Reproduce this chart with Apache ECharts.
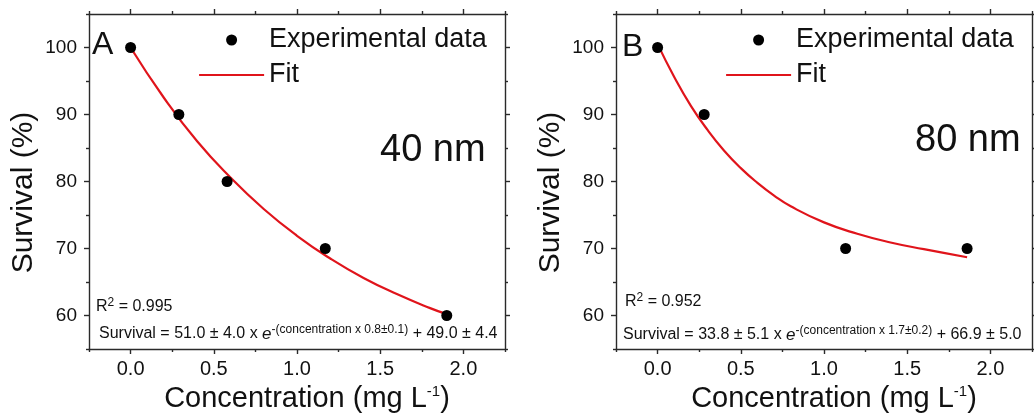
<!DOCTYPE html>
<html>
<head>
<meta charset="utf-8">
<script src="https://cdn.jsdelivr.net/npm/echarts@6/dist/echarts.min.js"></script>
<style>
html,body{margin:0;padding:0;background:#fff}
#chart{width:1034px;height:414px}
</style>
</head>
<body>
<div id="chart"></div>
<script>
// measured points, panel A (40 nm) and panel B (80 nm)
var concA = [0, 0.29, 0.58, 1.17, 1.9];
var survA = [100, 90, 80, 70, 60];
var concB = [0, 0.28, 1.13, 1.86];
var survB = [100, 90, 70, 70];

// fit curves
var fitConcA = [0, 0.2, 0.4, 0.6, 0.8, 1.0, 1.2, 1.4, 1.6, 1.8, 1.9];
var fitSurvA = [100, 92.5, 86.0, 80.6, 75.9, 71.9, 68.5, 65.6, 63.2, 61.1, 60.2];
var fitConcB = [0, 0.1, 0.2, 0.3, 0.4, 0.5, 0.6, 0.7, 0.8, 1.0, 1.2, 1.4, 1.6, 1.86];
var fitSurvB = [100.5, 95.6, 91.3, 87.7, 84.6, 82.0, 79.8, 77.9, 76.3, 73.9, 72.2, 70.9, 69.9, 68.7];

// ticks
var xLabels = [0, 0.5, 1, 1.5, 2];
var xMinorTicks = [-0.25, 0.25, 0.75, 1.25, 1.75, 2.25];
var yLabels = [60, 70, 80, 90, 100];
var yMinorTicks = [55, 65, 75, 85, 95, 105];

var FONT = 'Liberation Sans, Arial, sans-serif';
var axisColor = '#2a2a2a';
var red = '#e0141b';

var myChart = echarts.init(document.getElementById('chart'));

function pairs(xs, ys) {
    return xs.map(function (x, i) { return [x, ys[i]]; });
}

function xAxes(g) {
    var list = [];
    ['bottom', 'top'].forEach(function (pos) {
        list.push({
            gridIndex: g, type: 'value', position: pos, min: -0.25, max: 2.25,
            splitLine: {show: false},
            axisLine: {show: true, onZero: false, lineStyle: {color: axisColor, width: 1.4}},
            axisTick: {show: true, length: 5, customValues: xLabels, lineStyle: {color: axisColor, width: 1.4}},
            axisLabel: {
                show: pos === 'bottom', customValues: xLabels, margin: 10,
                fontSize: 20, fontFamily: FONT, color: '#111',
                formatter: function (v) { return v.toFixed(1); }
            },
            name: pos === 'bottom' ? '{n|Concentration (mg L}{s|-1}{n|)}' : '',
            nameLocation: 'middle',
            nameGap: 23,
            nameTextStyle: {
                padding: [0, 0, 0, 20],
                rich: {
                    n: {fontSize: 29, fontFamily: FONT, color: '#111', lineHeight: 30},
                    s: {fontSize: 15, fontFamily: FONT, color: '#111', lineHeight: 30, verticalAlign: 'top', padding: [0, 0, 14, 0]}
                }
            }
        });
        list.push({
            gridIndex: g, type: 'value', position: pos, min: -0.25, max: 2.25,
            splitLine: {show: false},
            axisLine: {show: false, onZero: false},
            axisTick: {show: true, length: 3, customValues: xMinorTicks, lineStyle: {color: axisColor, width: 1.4}},
            axisLabel: {show: false}
        });
    });
    return list;
}

function yAxes(g) {
    var list = [];
    ['left', 'right'].forEach(function (pos) {
        list.push({
            gridIndex: g, type: 'value', position: pos, min: 55, max: 105,
            splitLine: {show: false},
            axisLine: {show: true, onZero: false, lineStyle: {color: axisColor, width: 1.4}},
            axisTick: {show: true, length: 5, customValues: yLabels, lineStyle: {color: axisColor, width: 1.4}},
            axisLabel: {show: pos === 'left', customValues: yLabels, margin: 12, fontSize: 19, fontFamily: FONT, color: '#111'},
            name: pos === 'left' ? 'Survival (%)' : '',
            nameLocation: 'middle',
            nameGap: 50,
            nameTextStyle: {fontSize: 30, fontFamily: FONT, color: '#111', padding: [0, 22, 0, 0]}
        });
        list.push({
            gridIndex: g, type: 'value', position: pos, min: 55, max: 105,
            splitLine: {show: false},
            axisLine: {show: false, onZero: false},
            axisTick: {show: true, length: 3, customValues: yMinorTicks, lineStyle: {color: axisColor, width: 1.4}},
            axisLabel: {show: false}
        });
    });
    return list;
}

function legendAt(left) {
    return {
        left: left, top: 25, orient: 'vertical', padding: 0,
        itemWidth: 65, itemHeight: 11, itemGap: 5,
        selectedMode: false,
        textStyle: {fontSize: 27, lineHeight: 30, fontFamily: FONT, color: '#111'},
        data: [
            {name: 'Experimental data', icon: 'circle', itemStyle: {color: '#000', opacity: 1}},
            {name: 'Fit', itemStyle: {opacity: 0}, lineStyle: {color: red, width: 2.2}}
        ]
    };
}

function label(text, x, y, size) {
    return {
        type: 'text', x: x, y: y, z: 10,
        style: {text: text, fill: '#111', font: size + 'px ' + FONT, verticalAlign: 'middle'}
    };
}

var richEq = {
    n: {fontSize: 16, fontFamily: FONT, fill: '#111', lineHeight: 21},
    e: {fontSize: 17, fontFamily: FONT, fontStyle: 'italic', fill: '#111', lineHeight: 21},
    s: {fontSize: 12, fontFamily: FONT, fill: '#111', lineHeight: 14, verticalAlign: 'top'}
};

function richText(text, x, y) {
    return {
        type: 'text', x: x, y: y, z: 10,
        style: {text: text, rich: richEq, fill: '#111', font: '16px ' + FONT, verticalAlign: 'middle'}
    };
}

var option = {
    backgroundColor: '#fff',
    animation: false,
    grid: [
        {left: 89, top: 14, width: 416, height: 335, outerBoundsMode: 'none'},
        {left: 616, top: 14, width: 416, height: 335, outerBoundsMode: 'none'}
    ],
    legend: [legendAt(198), legendAt(725)],
    xAxis: xAxes(0).concat(xAxes(1)),
    yAxis: yAxes(0).concat(yAxes(1)),
    series: [
        {
            type: 'line', name: 'Fit', xAxisIndex: 0, yAxisIndex: 0,
            data: pairs(fitConcA, fitSurvA), smooth: true, symbol: 'none',
            lineStyle: {color: red, width: 2.2}, itemStyle: {color: red}, z: 2
        },
        {
            type: 'scatter', name: 'Experimental data', xAxisIndex: 0, yAxisIndex: 0,
            data: pairs(concA, survA), symbolSize: 11,
            itemStyle: {color: '#000', opacity: 1}, z: 3
        },
        {
            type: 'line', name: 'Fit', xAxisIndex: 4, yAxisIndex: 4,
            data: pairs(fitConcB, fitSurvB), smooth: true, symbol: 'none',
            lineStyle: {color: red, width: 2.2}, itemStyle: {color: red}, z: 2
        },
        {
            type: 'scatter', name: 'Experimental data', xAxisIndex: 4, yAxisIndex: 4,
            data: pairs(concB, survB), symbolSize: 11,
            itemStyle: {color: '#000', opacity: 1}, z: 3
        }
    ],
    graphic: [
        label('A', 92, 45, 32),
        label('40 nm', 380, 151, 38),
        richText('{n|R}{s|2}{n| = 0.995}', 96, 307),
        richText('{n|Survival = 51.0 ± 4.0 x }{e|e}{s|-(concentration x 0.8±0.1)}{n| + 49.0 ± 4.4}', 99, 334),
        label('B', 622, 47, 32),
        label('80 nm', 915, 141, 38),
        richText('{n|R}{s|2}{n| = 0.952}', 625, 302),
        richText('{n|Survival = 33.8 ± 5.1 x }{e|e}{s|-(concentration x 1.7±0.2)}{n| + 66.9 ± 5.0}', 623, 335)
    ]
};

myChart.setOption(option);
</script>
</body>
</html>
